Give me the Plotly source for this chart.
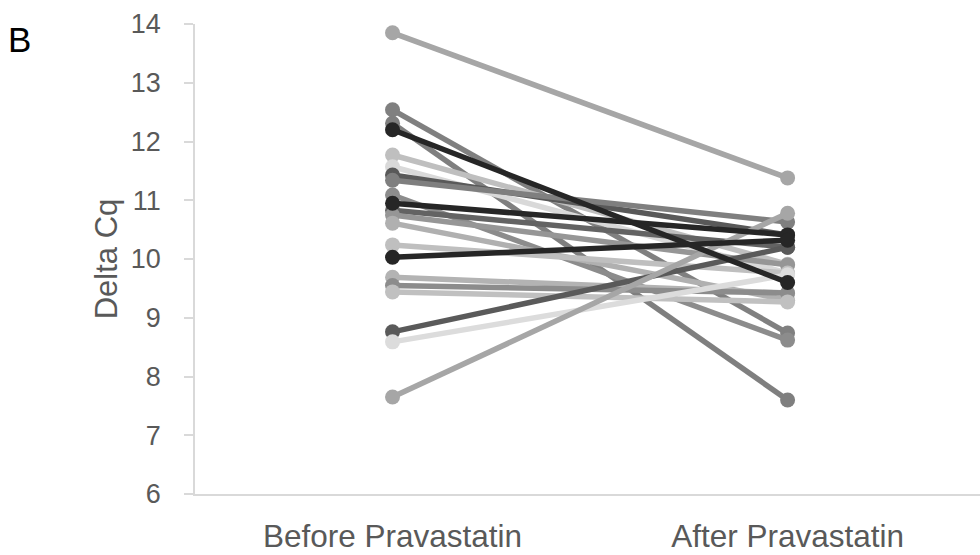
import plotly.graph_objects as go

categories = ["Before Pravastatin", "After Pravastatin"]
before = [13.85, 12.54, 12.31, 11.77, 11.57, 11.43, 11.34, 11.09, 10.83, 10.75, 10.61,
          10.24, 9.69, 9.55, 9.44, 8.76, 8.59, 7.65, 10.95, 10.03, 12.20]
after = [11.38, 8.74, 7.60, 9.91, 9.76, 10.41, 10.63, 8.62, 10.20, 9.90, 9.30,
         9.76, 9.42, 9.42, 9.27, 10.20, 9.73, 10.78, 10.41, 10.32, 9.60]
colors = ["#a6a6a6", "#808080", "#7f7f7f", "#bfbfbf", "#d9d9d9", "#595959", "#7f7f7f",
          "#8c8c8c", "#636363", "#969696", "#b0b0b0", "#bfbfbf", "#b3b3b3", "#8c8c8c",
          "#c0c0c0", "#5a5a5a", "#dcdcdc", "#a6a6a6", "#262626", "#262626", "#262626"]
yticks = [6, 7, 8, 9, 10, 11, 12, 13, 14]

fig = go.Figure()
for b, a, c in zip(before, after, colors):
    fig.add_trace(go.Scatter(
        x=[0, 1], y=[b, a], mode="lines+markers",
        line=dict(color=c, width=5.5),
        marker=dict(color=c, size=15),
        showlegend=False, hoverinfo="skip", cliponaxis=False))

font = "Liberation Sans, Arial, sans-serif"
fig.update_layout(
    width=980, height=555,
    margin=dict(l=195, r=0, t=24, b=61),
    plot_bgcolor="white", paper_bgcolor="white",
    font=dict(family=font, color="#595959", size=28),
    xaxis=dict(range=[-0.5, 1.487], tickvals=[0, 1], ticktext=categories,
               showgrid=False, zeroline=False, showline=True,
               linecolor="#d9d9d9", linewidth=1.5, ticks="",
               ticklabelstandoff=13, tickfont=dict(size=31.5)),
    yaxis=dict(range=[6, 14], tickvals=yticks, showgrid=False, zeroline=False,
               showline=True, linecolor="#d9d9d9", linewidth=1.5,
               ticks="outside", ticklen=9, tickcolor="#d9d9d9", tickwidth=1.5,
               ticklabelstandoff=18, tickfont=dict(size=27)),
    annotations=[
        dict(text="Delta Cq", xref="paper", yref="paper", x=-0.113, y=0.5,
             xanchor="center", yanchor="middle", textangle=-90, showarrow=False,
             font=dict(size=31, color="#595959")),
        dict(text="B", xref="paper", yref="paper", x=-0.223, y=0.966,
             xanchor="center", yanchor="middle", showarrow=False,
             font=dict(size=35, color="black")),
    ],
)
fig.write_html("out.html")
